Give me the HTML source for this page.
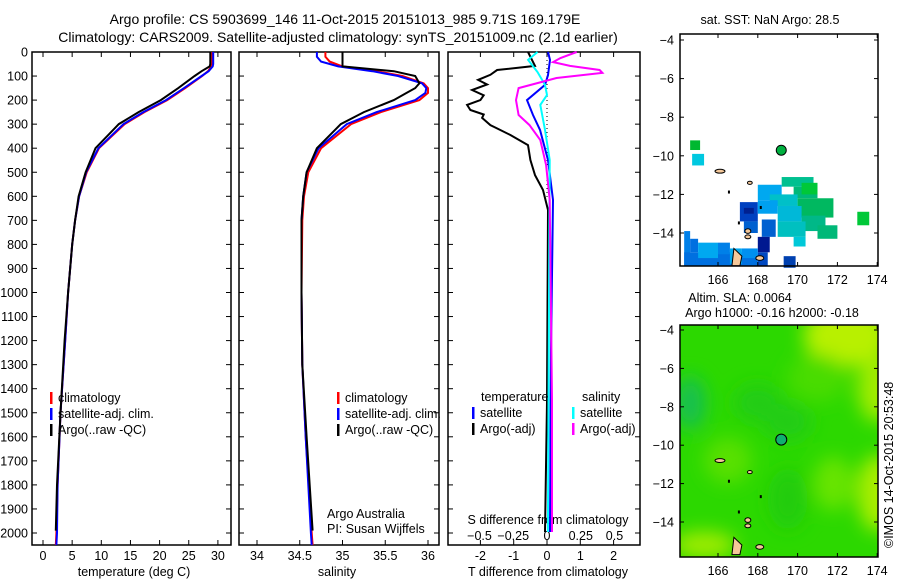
<!DOCTYPE html>
<html><head><meta charset="utf-8"><style>
body{margin:0;background:#fff;}
svg{display:block;font-family:"Liberation Sans",sans-serif;}
text{font-size:12.5px;fill:#000;}
</style></head><body>
<svg id="s" width="900" height="580" xmlns="http://www.w3.org/2000/svg">
<text x="345" y="24" text-anchor="middle" style="font-size:14px">Argo profile: CS 5903699_146 11-Oct-2015 20151013_985 9.71S 169.179E</text>
<text x="338" y="42" text-anchor="middle" style="font-size:14px">Climatology: CARS2009. Satellite-adjusted climatology: synTS_20151009.nc (2.1d earlier)</text>
<text x="770" y="24" text-anchor="middle">sat. SST: NaN Argo: 28.5</text>
<text x="740" y="302" text-anchor="middle">Altim. SLA: 0.0064</text>
<text x="772" y="317" text-anchor="middle">Argo h1000: -0.16 h2000: -0.18</text>
<text transform="translate(893,548) rotate(-90)">©IMOS 14-Oct-2015 20:53:48</text>
<text x="134" y="576" text-anchor="middle">temperature (deg C)</text>
<text x="337" y="576" text-anchor="middle">salinity</text>
<text x="548" y="576" text-anchor="middle">T difference from climatology</text>
<text x="548" y="524" text-anchor="middle">S difference from climatology</text>
<text x="327" y="518">Argo Australia</text>
<text x="327" y="533">PI: Susan Wijffels</text>
</svg>
<script>
// ---- data ----
const tDepth=[0,50,60,80,100,150,200,250,300,400,500,600,700,800,1000,1200,1500,1800,2000,2050];
const tClim=[29,29,28.9,28.3,27.3,24.4,21.3,17.4,14.0,9.6,7.5,6.2,5.5,5.0,4.3,3.8,3.0,2.5,2.3,2.2];
const tSat=[29.2,29.2,29.1,28.4,27.2,24.2,21.1,17.2,13.8,9.5,7.4,6.2,5.5,5.0,4.3,3.8,3.0,2.5,2.4,2.3];
const tArgoDepth=[0,50,60,80,100,150,200,250,300,400,500,600,700,800,1000,1200,1500,1800,1990];
const tArgo=[28.7,28.7,28.6,27.2,26.0,23.2,20.2,16.4,13.0,9.0,7.3,6.1,5.5,5.0,4.3,3.7,3.0,2.4,2.2];
const sDepth=[0,20,40,60,80,100,130,150,170,200,250,300,400,500,600,700,1000,1300,1600,2000,2050];
const sClim=[34.8,34.8,34.85,35.0,35.4,35.7,35.95,36.0,36.0,35.9,35.45,35.1,34.75,34.6,34.55,34.53,34.52,34.53,34.57,34.64,34.65];
const sSat=[34.7,34.7,34.75,34.95,35.35,35.65,35.93,35.98,35.97,35.85,35.4,35.05,34.72,34.58,34.54,34.52,34.52,34.53,34.57,34.63,34.64];
const sArgoDepth=[0,20,40,60,80,100,130,150,170,200,250,300,400,500,600,700,1000,1300,1600,1990];
const sArgo=[35.0,35.0,35.0,35.0,35.6,35.85,35.9,35.85,35.75,35.6,35.25,34.98,34.7,34.58,34.54,34.52,34.52,34.53,34.58,34.65];
const dTArgoDepth=[0,33,58,75,95,116,135,158,180,200,220,241,260,274,304,345,387,449,512,574,657,1455,1996];
const dTArgo=[-0.57,-0.45,-0.36,-1.5,-1.7,-2.07,-1.8,-2.25,-1.9,-2.0,-2.4,-2.3,-1.9,-1.95,-1.7,-1.1,-0.57,-0.5,-0.36,-0.12,0.03,0,-0.06];
const dTSatDepth=[0,33,96,137,200,262,324,449,615,1239,1996];
const dTSat=[0.03,0.09,0.03,-0.06,-0.6,-0.42,-0.21,0.03,0.18,0.12,0.09];
const dSSatDepth=[0,33,83,137,179,220,324,449,1031,1996];
const dSSat=[-0.07,-0.14,-0.07,-0.015,0,-0.05,-0.015,0.02,0.015,0.007];
const dSArgoDepth=[0,25,42,58,75,87,108,150,200,262,304,366,470,615,1447,1996];
const dSArgo=[0.22,0.1,0.045,0.17,0.39,0.41,0.07,-0.21,-0.23,-0.21,-0.13,-0.05,-0.007,0.02,0.037,0.037];
const depthTicks=[0,100,200,300,400,500,600,700,800,900,1000,1100,1200,1300,1400,1500,1600,1700,1800,1900,2000];
const tTicks=[0,5,10,15,20,25,30];
const sTicks=[34,34.5,35,35.5,36];
const dTTicks=[-2,-1,0,1,2];
const dSTicks=[-0.5,-0.25,0,0.25,0.5];
const dSTickLabels=["\u22120.5","\u22120.25","0","0.25","0.5"];
const lonTicks=[166,168,170,172,174];
const latTicks=[-4,-6,-8,-10,-12,-14];
const sstCells=[
[164.6,-9.2,165.1,-9.7,"#00b830"],[164.7,-9.9,165.3,-10.5,"#00c8e0"],
[169.2,-11.1,170.8,-11.6,"#00c090"],[169.8,-11.6,171.0,-12.2,"#00b878"],
[170.2,-11.4,171.0,-12.0,"#00c838"],[168.0,-11.5,169.2,-12.3,"#00a8f0"],
[168.6,-12.0,170.0,-12.6,"#00c0c8"],[170.0,-12.2,171.8,-13.2,"#00b860"],
[167.1,-12.4,168.0,-13.4,"#0040c0"],[167.3,-12.7,167.8,-13.0,"#002090"],
[168.0,-12.3,169.0,-13.0,"#00a0f0"],[169.0,-12.6,170.2,-13.4,"#00b8d8"],
[170.2,-13.1,171.4,-13.9,"#00b888"],[171.0,-13.6,172.0,-14.3,"#00b878"],
[169.0,-13.4,170.4,-14.2,"#00c0c0"],[169.8,-14.2,170.4,-14.7,"#00c8d8"],
[168.2,-13.3,168.9,-14.2,"#0060d0"],[167.3,-13.4,168.0,-14.0,"#0060d0"],
[168.0,-14.2,168.6,-15.0,"#001890"],[168.0,-15.0,168.5,-15.7,"#0048c0"],
[173.0,-12.9,173.6,-13.6,"#00c838"],[169.3,-15.2,169.9,-15.8,"#0040b0"],
[164.3,-13.9,164.6,-15.7,"#0080e8"],[164.6,-14.3,165.0,-15.0,"#0070e0"],
[164.3,-15.0,168.0,-15.7,"#0070e0"],[165.0,-14.5,166.0,-15.3,"#00a8f0"],
[166.0,-14.5,166.6,-15.1,"#0080e8"],[166.6,-14.8,167.2,-15.6,"#00a8f0"],
[167.2,-14.8,168.0,-15.3,"#0090f0"]];
const slaBlobs=[
[172.5,-4.3,2.2,1.6,"#b8f000"],[174,-7,1.0,1.8,"#a0ec00"],[174,-12.5,1.0,2,"#a8ee00"],
[165.3,-15.2,1.6,0.7,"#a0ec00"],[166.5,-10.8,1.2,1.2,"#58e000"],[171.8,-12,1.0,1.4,"#68e400"],
[171,-6.5,1.5,1.2,"#48dc00"],[164.6,-7.8,0.8,1.4,"#18c050"],[168,-7.8,1.2,1.0,"#20cc18"],[169.5,-8.8,1.2,1.0,"#20cc18"],
[169.5,-12.8,1.0,1.6,"#20cc10"]];

const NS="http://www.w3.org/2000/svg",svg=document.getElementById('s');
function el(t,a,p){const e=document.createElementNS(NS,t);for(const k in a)e.setAttribute(k,a[k]);(p||svg).appendChild(e);return e;}
function txt(x,y,s,anc,p){const e=el('text',{x:x,y:y,'text-anchor':anc||'middle'},p);e.textContent=s;return e;}
const yD=d=>52+d*0.2405;
function panel(name,x0,x1,xf,ticks,labels,showY,ly){
  const g=el('g',{});
  
  
  el('rect',{x:x0,y:52,width:x1-x0,height:493,fill:'none',stroke:'#000','stroke-width':1.5},g);
  depthTicks.forEach(d=>{const y=yD(d);el('line',{x1:x0,x2:x0+5,y1:y,y2:y,stroke:'#000'},g);el('line',{x1:x1-5,x2:x1,y1:y,y2:y,stroke:'#000'},g);
    if(showY)txt(x0-4,y+4.5,String(d),'end',g);});
  ticks.forEach((v,i)=>{const x=xf(v);el('line',{x1:x,x2:x,y1:52,y2:57,stroke:'#000'},g);el('line',{x1:x,x2:x,y1:540,y2:545,stroke:'#000'},g);
    txt(x,ly,labels?labels[i]:String(v),'middle',g);});
  return g;}
function line(g,name,xs,ds,xf,col){const pts=xs.map((v,i)=>xf(v).toFixed(1)+','+yD(ds[i]).toFixed(1)).join(' ');
  const p=el('polyline',{points:pts,fill:'none',stroke:col,'stroke-width':2},g);
  
  }
function legend(g,x,y,items){items.forEach((it,i)=>{el('rect',{x:x,y:y+i*16-10,width:2.5,height:12,fill:it[1]},g);txt(x+8,y+i*16,it[0],'start',g);});}

const xT=v=>43+v*5.83;
const g1=panel('temperature-panel',32,231,xT,tTicks,null,true,560);
line(g1,'temp-climatology-line',tClim,tDepth,xT,'#f00');
line(g1,'temp-satellite-line',tSat,tDepth,xT,'#00f');
line(g1,'temp-argo-line',tArgo,tArgoDepth,xT,'#000');
legend(g1,50,402,[['climatology','#f00'],['satellite-adj. clim.','#00f'],['Argo(..raw -QC)','#000']]);
const xS=v=>257+(v-34)*85.5;
const g2=panel('salinity-panel',239,439,xS,sTicks,null,false,560);
line(g2,'sal-climatology-line',sClim,sDepth,xS,'#f00');
line(g2,'sal-satellite-line',sSat,sDepth,xS,'#00f');
line(g2,'sal-argo-line',sArgo,sArgoDepth,xS,'#000');
legend(g2,337,402,[['climatology','#f00'],['satellite-adj. clim.','#00f'],['Argo(..raw -QC)','#000']]);
const xDT=v=>547+v*33.3, xDS=v=>547+v*135;
const g3=panel('difference-panel',448,640,xDT,dTTicks,null,false,560);
dSTicks.forEach((v,i)=>txt(xDS(v),540,dSTickLabels[i],'middle',g3));
el('line',{x1:547,x2:547,y1:52,y2:200,stroke:'#000','stroke-dasharray':'1,3'},g3);
line(g3,'t-diff-argo-line',dTArgo,dTArgoDepth,xDT,'#000');
line(g3,'t-diff-satellite-line',dTSat,dTSatDepth,xDT,'#00f');
line(g3,'s-diff-satellite-line',dSSat,dSSatDepth,xDS,'#0ff');
line(g3,'s-diff-argo-line',dSArgo,dSArgoDepth,xDS,'#f0f');
txt(481,401,'temperature','start',g3);txt(582,401,'salinity','start',g3);
legend(g3,472,417,[['satellite','#00f'],['Argo(-adj)','#000']]);
legend(g3,572,417,[['satellite','#0ff'],['Argo(-adj)','#f0f']]);

function map(name){
  const g=el('g',{});
  
  
  return g;}
const xLon=lon=>718+(lon-166)*19.9;
function frame(g,top,bot,yLat){
  el('rect',{x:680,y:top,width:198,height:bot-top,fill:'none',stroke:'#000','stroke-width':1.5},g);
  lonTicks.forEach(v=>{const x=xLon(v);el('line',{x1:x,x2:x,y1:top,y2:top+4,stroke:'#000'},g);el('line',{x1:x,x2:x,y1:bot-4,y2:bot,stroke:'#000'},g);txt(x,bot+18,String(v),'middle',g);});
  latTicks.forEach(v=>{const y=yLat(v);el('line',{x1:680,x2:684,y1:y,y2:y,stroke:'#000'},g);el('line',{x1:874,x2:878,y1:y,y2:y,stroke:'#000'},g);txt(674,y+4.5,String(v).replace('-','\u2212'),'end',g);});
}
function islands(g,yLat){
  [[166.1,-10.8,0.25,0.1],[167.6,-11.4,0.12,0.08],[167.5,-13.9,0.15,0.12],[167.5,-14.2,0.15,0.1],[168.1,-15.3,0.2,0.12]].forEach(a=>{
    el('ellipse',{cx:xLon(a[0]),cy:yLat(a[1]),rx:a[2]*19.9,ry:a[3]*19.3,fill:'#f5c89a',stroke:'#000'},g);});
  el('path',{d:`M${xLon(166.8)},${yLat(-14.8)} L${xLon(167.2)},${yLat(-15.2)} L${xLon(167.1)},${yLat(-15.7)} L${xLon(166.7)},${yLat(-15.7)} Z`,fill:'#f5c89a',stroke:'#000'},g);
  [[166.5,-11.8],[167,-13.4],[168.1,-12.6],[169.2,-9.6]].forEach(a=>el('rect',{x:xLon(a[0]),y:yLat(a[1]),width:2,height:3,fill:'#000'},g));
}
const yLat1=lat=>40+(-4-lat)*19.3;
const m1=map('sst-map');
sstCells.forEach(c=>{const r=el('rect',{x:xLon(c[0]),y:yLat1(c[1]),width:(c[2]-c[0])*19.9,height:(c[1]-c[3])*19.3,fill:c[4]},m1);
  
  });
islands(m1,yLat1);
el('circle',{cx:xLon(169.179),cy:yLat1(-9.71),r:5,fill:'#00b040',stroke:'#000'},m1);
frame(m1,34,266,yLat1);

const yLat2=lat=>330+(-4-lat)*19.2;
const m2=map('sla-map');
const defs=el('defs',{},m2);
const flt=el('filter',{id:'bl',x:'-50%',y:'-50%',width:'200%',height:'200%'},defs);
el('feGaussianBlur',{stdDeviation:9},flt);
const cp=el('clipPath',{id:'c2'},defs);
el('rect',{x:680,y:325,width:198,height:232},cp);
const bg=el('g',{'clip-path':'url(#c2)'},m2);
el('rect',{x:680,y:325,width:198,height:232,fill:'#2cd800'},bg);
const bl=el('g',{filter:'url(#bl)'},bg);
slaBlobs.forEach(b=>{const e=el('ellipse',{cx:xLon(b[0]),cy:yLat2(b[1]),rx:b[2]*19.9,ry:b[3]*19.2,fill:b[4]},bl);
  
  });
islands(m2,yLat2);
el('circle',{cx:xLon(169.179),cy:yLat2(-9.71),r:5.5,fill:'#10b070',stroke:'#000'},m2);
frame(m2,325,557,yLat2);
</script>
</body></html>
